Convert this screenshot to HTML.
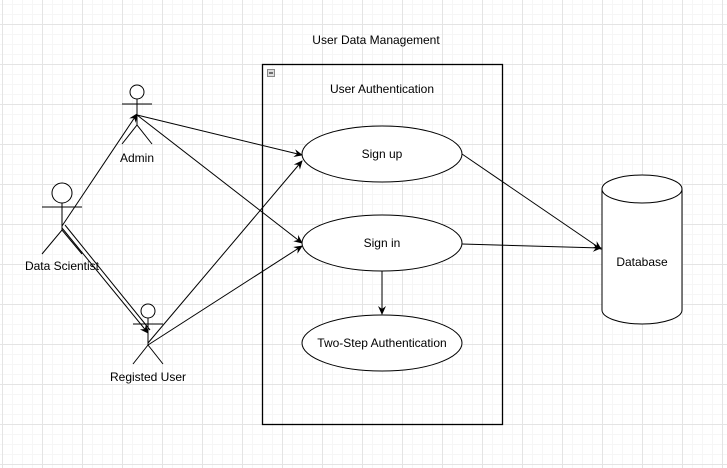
<!DOCTYPE html>
<html><head><style>
html,body{margin:0;padding:0;background:#fff;}
svg{display:block;}
text{font-family:"Liberation Sans",Arial,sans-serif;font-size:12px;fill:#000;}
</style></head><body>
<svg width="727" height="468" xmlns="http://www.w3.org/2000/svg">
<defs>
<pattern id="mn" width="10" height="10" patternUnits="userSpaceOnUse" x="2" y="4">
<path d="M0 0.5H10M0.5 0V10" stroke="#f6f6f6" stroke-width="1" fill="none"/>
</pattern>
<pattern id="mj" width="40" height="40" patternUnits="userSpaceOnUse" x="2" y="24">
<path d="M0 0.5H40M0.5 0V40" stroke="#e4e4e4" stroke-width="1" fill="none"/>
</pattern>
<marker id="a" markerWidth="10" markerHeight="10" refX="8" refY="5" orient="auto" markerUnits="userSpaceOnUse">
<path d="M0,1 L9,5 L0,9 L3,5 Z" fill="#000"/>
</marker>
</defs>
<rect width="727" height="468" fill="url(#mn)"/>
<rect width="727" height="468" fill="url(#mj)"/>

<text x="376" y="44" text-anchor="middle">User Data Management</text>
<rect x="262.5" y="64.5" width="240" height="360" fill="none" stroke="#000" stroke-width="1.3"/>
<rect x="267.5" y="69.5" width="7" height="7" fill="#ddd" stroke="#888"/>
<line x1="269" y1="73" x2="273" y2="73" stroke="#000"/>
<text x="382" y="93" text-anchor="middle">User Authentication</text>

<g stroke="#000" stroke-width="1" fill="none">
<line x1="62" y1="226" x2="137" y2="114" marker-end="url(#a)"/>
<line x1="62" y1="228" x2="148" y2="333" marker-end="url(#a)"/>
<line x1="65" y1="225" x2="150" y2="330"/>
<line x1="137" y1="115" x2="302" y2="155" marker-end="url(#a)"/>
<line x1="137" y1="115" x2="302" y2="243" marker-end="url(#a)"/>
<line x1="148" y1="343" x2="302" y2="161" marker-end="url(#a)"/>
<line x1="148" y1="345" x2="302" y2="246" marker-end="url(#a)"/>
<line x1="462" y1="154" x2="601" y2="249" marker-end="url(#a)"/>
<line x1="462" y1="244" x2="601" y2="248" marker-end="url(#a)"/>
<line x1="382" y1="271" x2="382" y2="314" marker-end="url(#a)"/>
</g>

<g stroke="#000" fill="#fff">
<ellipse cx="382" cy="154" rx="80" ry="28"/>
<ellipse cx="382" cy="243" rx="80" ry="28"/>
<ellipse cx="382" cy="343" rx="80" ry="28"/>
</g>
<text x="382" y="158" text-anchor="middle">Sign up</text>
<text x="382" y="247" text-anchor="middle">Sign in</text>
<text x="382" y="347" text-anchor="middle">Two-Step Authentication</text>

<g stroke="#000" fill="#fff">
<path d="M602 189 V310 A40 14 0 0 0 682 310 V189"/>
<ellipse cx="642" cy="189" rx="40" ry="14"/>
</g>
<text x="642" y="266" text-anchor="middle">Database</text>

<g stroke="#000" fill="none">
<circle cx="137" cy="92" r="7" fill="#fff"/>
<line x1="122" y1="104" x2="152" y2="104"/><line x1="137" y1="99" x2="137" y2="125"/>
<path d="M122 144 L137 125 L152 144"/>
<circle cx="62" cy="193" r="10" fill="#fff"/>
<line x1="42" y1="207" x2="82" y2="207"/><line x1="62" y1="203" x2="62" y2="230"/>
<path d="M42 254 L62 230 L82 254"/>
<circle cx="148" cy="311" r="7" fill="#fff"/>
<line x1="133" y1="324" x2="163" y2="324"/><line x1="148" y1="318" x2="148" y2="345"/>
<path d="M133 364 L148 345 L163 364"/>
</g>
<text x="137" y="162" text-anchor="middle">Admin</text>
<text x="62" y="270" text-anchor="middle">Data Scientist</text>
<text x="148" y="381" text-anchor="middle">Registed User</text>
</svg>
</body></html>
